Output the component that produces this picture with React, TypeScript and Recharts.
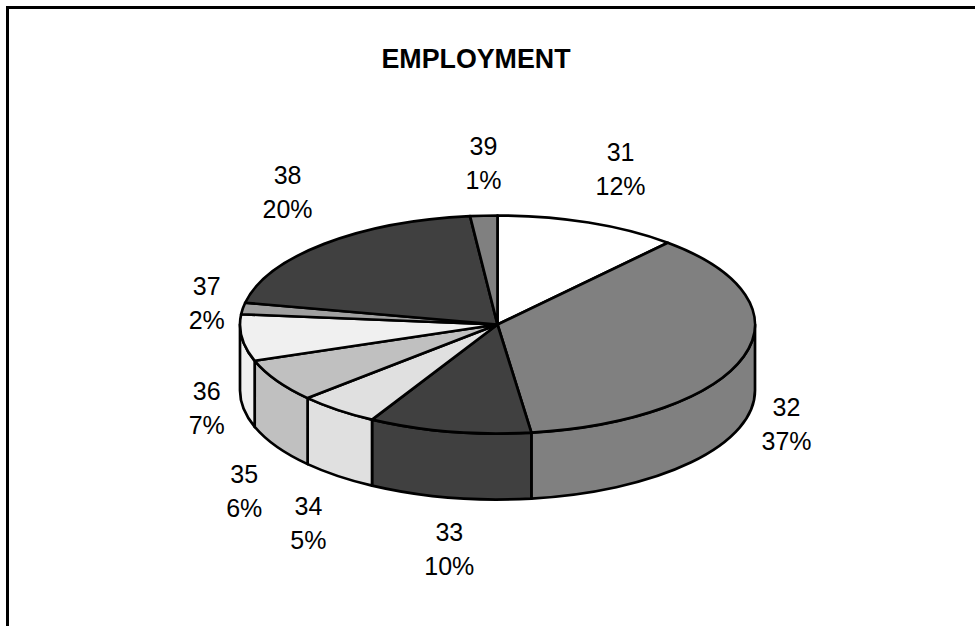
import React from "react";
import { PieChart, Pie } from "recharts";

const categories = ["31", "32", "33", "34", "35", "36", "37", "38", "39"];
const shares = [11.5, 36.4, 10.2, 5.1, 6.4, 6.9, 1.7, 20.1, 1.7];
const shownPercent = ["12%", "37%", "10%", "5%", "6%", "7%", "2%", "20%", "1%"];
const fills = ["#ffffff", "#808080", "#404040", "#e0e0e0", "#c0c0c0", "#f0f0f0", "#a0a0a0", "#404040", "#808080"];

const data = categories.map((name, i) => ({
  name,
  value: shares[i],
  fill: fills[i],
  shown: shownPercent[i],
}));

const WIDTH = 975;
const HEIGHT = 626;
const CX = 497.5;
const CY = 324.5;
const RX = 257.5;
const TILT = 109 / 257.5;
const DEPTH = 66;
const LABEL_RX = 300;
const LABEL_RY = 165;
const LINE_GAP = 34;
const STROKE = 2.7;
const FONT = "'Liberation Sans', Arial, sans-serif";
const labelNudgeX = [17, 2, 8, -3, 4, 7, 6, -8, 2];
const labelNudgeY = [-4, -18, -7, 0, 13, -6, 0, -13, 0];

const RAD = Math.PI / 180;

function EllipticSlice(props: any) {
  const { cx, cy, outerRadius, startAngle, endAngle, fill } = props;
  const rx = outerRadius;
  const ry = outerRadius * TILT;
  const pt = (deg: number, drop = 0) =>
    `${cx + rx * Math.cos(deg * RAD)} ${cy - ry * Math.sin(deg * RAD) + drop}`;
  const sweep = startAngle - endAngle;
  const top = `M ${cx} ${cy} L ${pt(startAngle)} A ${rx} ${ry} 0 ${sweep > 180 ? 1 : 0} 1 ${pt(endAngle)} Z`;
  // the side wall shows only on the front half, between 0 and -180 degrees
  const from = Math.min(startAngle, 0);
  const to = Math.max(endAngle, -180);
  const hasWall = from > to;
  const wall = hasWall
    ? `M ${pt(from)} A ${rx} ${ry} 0 0 1 ${pt(to)} L ${pt(to, DEPTH)} A ${rx} ${ry} 0 0 0 ${pt(from, DEPTH)} Z`
    : "";
  return (
    <g>
      {hasWall && <path d={wall} fill={fill} stroke="#000" strokeWidth={STROKE} strokeLinejoin="round" />}
      <path d={top} fill={fill} stroke="#000" strokeWidth={STROKE} strokeLinejoin="round" />
    </g>
  );
}

function SliceLabel(props: any) {
  const { cx, cy, midAngle, index, name, payload } = props;
  const c = Math.cos(midAngle * RAD);
  const s = Math.sin(midAngle * RAD);
  const x = cx + LABEL_RX * c + labelNudgeX[index];
  const y = cy - LABEL_RY * s + (s < 0 ? DEPTH : 0) + labelNudgeY[index];
  return (
    <text x={x} textAnchor="middle" fontFamily={FONT} fontSize={25} fill="#000">
      <tspan x={x} y={y - LINE_GAP / 2 + 12}>{name ?? payload?.name}</tspan>
      <tspan x={x} y={y + LINE_GAP / 2 + 12}>{payload?.shown}</tspan>
    </text>
  );
}

export default function App() {
  return (
    <div style={{ position: "absolute", left: 0, top: 0, width: WIDTH, height: HEIGHT, background: "#fff" }}>
      <PieChart width={WIDTH} height={HEIGHT} margin={{ top: 0, right: 0, bottom: 0, left: 0 }} accessibilityLayer={false}>
        <line x1={7.5} y1={6} x2={7.5} y2={HEIGHT} stroke="#000" strokeWidth={3} />
        <line x1={6} y1={7.5} x2={WIDTH} y2={7.5} stroke="#000" strokeWidth={3} />
        <text x={476} y={68} textAnchor="middle" fontFamily={FONT} fontWeight="bold" fontSize={26.8} fill="#000">
          EMPLOYMENT
        </text>
        <Pie
          data={data}
          dataKey="value"
          nameKey="name"
          cx={CX}
          cy={CY}
          outerRadius={RX}
          innerRadius={0}
          startAngle={90}
          endAngle={-270}
          paddingAngle={0}
          isAnimationActive={false}
          shape={EllipticSlice}
          label={SliceLabel}
          labelLine={false}
        />
      </PieChart>
    </div>
  );
}
